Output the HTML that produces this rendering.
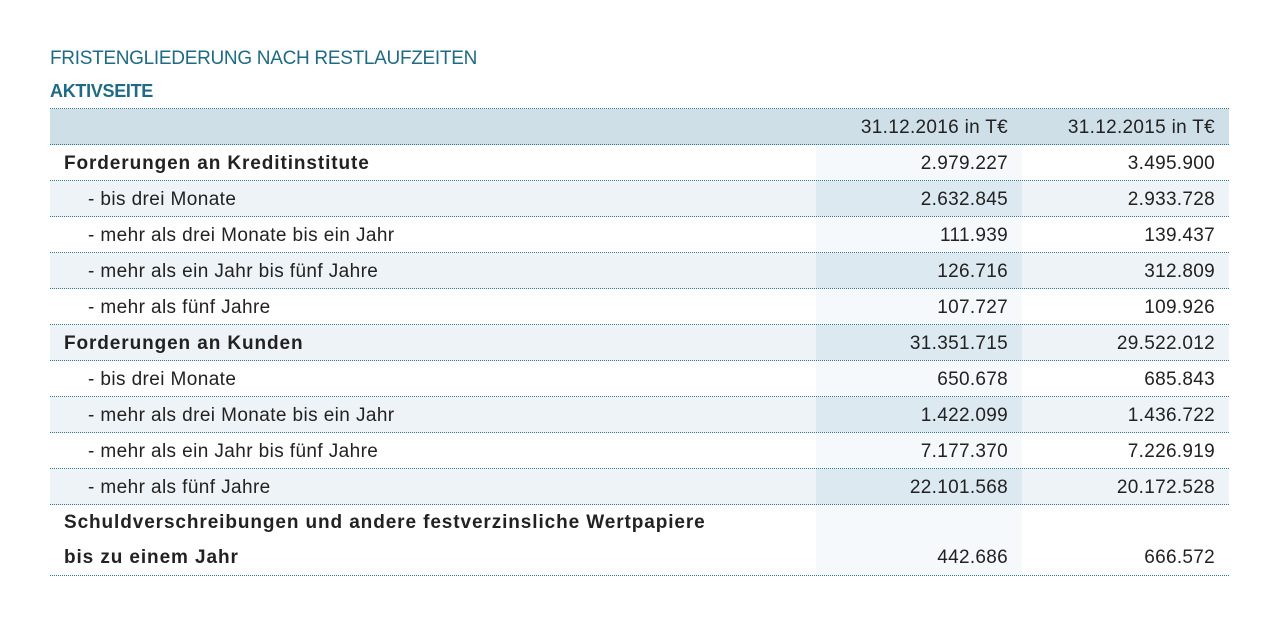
<!DOCTYPE html>
<html><head><meta charset="utf-8"><style>
body{margin:0;width:1280px;height:626px;background:#fff;font-family:"Liberation Sans",sans-serif;position:relative;overflow:hidden;color:#222}
.t{position:absolute;left:50px;color:#1f6a84;font-size:19px;letter-spacing:-0.3px}
.row{position:absolute;left:50px;width:1179px;border-bottom:1px dotted #2f7692;box-sizing:border-box}
.row .c{position:absolute;top:0;height:100%}
.row .l{left:14px;font-size:19px;letter-spacing:0.4px;white-space:nowrap}
.row .v1{left:766px;width:206px;box-sizing:border-box;padding-right:14px;text-align:right;font-size:19px;letter-spacing:0.3px}
.row .v2{left:972px;width:207px;box-sizing:border-box;padding-right:14px;text-align:right;font-size:19px;letter-spacing:0.3px}
.b{font-weight:bold;letter-spacing:0.9px!important}
</style></head><body>
<div class="t" style="top:48px">FRISTENGLIEDERUNG NACH RESTLAUFZEITEN</div>
<div class="t" style="top:81px;font-weight:bold;font-size:18px">AKTIVSEITE</div>
<div style="position:absolute;left:50px;top:108px;width:1179px;border-top:1px dotted #2f7692"></div>
<div id="tbl"></div>
<script>
const labels=["Forderungen an Kreditinstitute","- bis drei Monate","- mehr als drei Monate bis ein Jahr","- mehr als ein Jahr bis fünf Jahre","- mehr als fünf Jahre","Forderungen an Kunden","- bis drei Monate","- mehr als drei Monate bis ein Jahr","- mehr als ein Jahr bis fünf Jahre","- mehr als fünf Jahre"];
const v2016=["2.979.227","2.632.845","111.939","126.716","107.727","31.351.715","650.678","1.422.099","7.177.370","22.101.568"];
const v2015=["3.495.900","2.933.728","139.437","312.809","109.926","29.522.012","685.843","1.436.722","7.226.919","20.172.528"];
const tbl=document.getElementById('tbl');
function mk(top,h,bg,colbg,l,a,b,bold,indent,lh){
  const r=document.createElement('div');r.className='row';
  r.style.top=top+'px';r.style.height=h+'px';r.style.background=bg;
  
  
  r.innerHTML='<div class="c" style="left:766px;width:206px;background:'+colbg+'"></div>'+
  '<div class="c l'+(bold?' b':'')+'" style="left:'+(indent?38:14)+'px;line-height:'+lh+'">'+l+'</div>'+
  '<div class="c v1" style="line-height:'+lh+'">'+a+'</div><div class="c v2" style="line-height:'+lh+'">'+b+'</div>';
  tbl.appendChild(r);return r;
}
const h=mk(109,36,'#cfdfe8','#cfdfe8','','31.12.2016 in T€','31.12.2015 in T€',false,false,'37px');

for(let i=0;i<labels.length;i++){
  const shaded=i%2==1;
  const bold=!labels[i].startsWith('-');
  mk(145+36*i,36,shaded?'#eef3f7':'#fff',shaded?'#dde9f1':'#f6f9fb',labels[i],v2016[i],v2015[i],bold,!bold,'37px');
}
mk(505,71,'#fff','#f6f9fb','Schuldverschreibungen und andere festverzinsliche Wertpapiere<br>bis zu einem Jahr','<br>442.686','<br>666.572',true,false,'35px');
</script>
</body></html>
